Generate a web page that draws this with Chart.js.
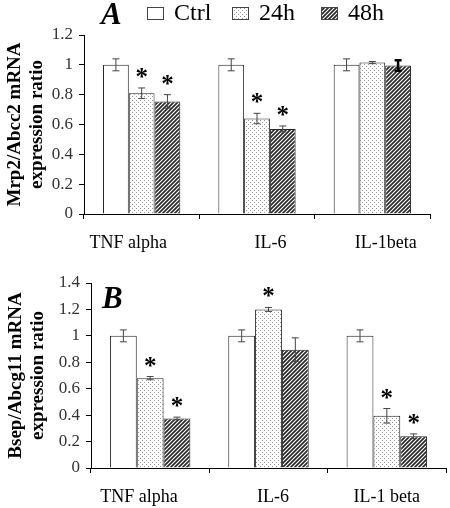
<!DOCTYPE html>
<html>
<head>
<meta charset="utf-8">
<script src="https://cdn.jsdelivr.net/npm/chart.js@4.4.1/dist/chart.umd.min.js"></script>
<style>
  body { margin: 0; background: #fff; }
  .panel { position: absolute; left: 0; width: 450px; height: 254px; }
</style>
</head>
<body>
<div class="panel" style="top:0"><canvas id="chartA" width="450" height="254"></canvas></div>
<div class="panel" style="top:254px"><canvas id="chartB" width="450" height="254"></canvas></div>
<script>
// dados
const seriesNames = ['Ctrl', '24h', '48h'];

const categoriasA = ['TNF alpha', 'IL-6', 'IL-1beta'];
const ctrlA = [1.0, 1.0, 1.0];
const h24A = [0.81, 0.64, 1.015];
const h48A = [0.755, 0.57, 0.995];
const ctrlAErr = [0.04, 0.04, 0.04];
const h24AErr = [0.035, 0.035, 0.007];
const h48AErr = [0.045, 0.02, 0.035];
const h24AStar = [true, true, false];
const h48AStar = [true, true, false];
const ticksA = [0, 0.2, 0.4, 0.6, 0.8, 1, 1.2];

const categoriasB = ['TNF alpha', 'IL-6', 'IL-1 beta'];
const ctrlB = [1.0, 1.0, 1.0];
const h24B = [0.68, 1.2, 0.395];
const h48B = [0.375, 0.895, 0.24];
const ctrlBErr = [0.045, 0.045, 0.045];
const h24BErr = [0.012, 0.015, 0.055];
const h48BErr = [0.01, 0.09, 0.018];
const h24BStar = [true, true, true];
const h48BStar = [true, false, true];
const ticksB = [0, 0.2, 0.4, 0.6, 0.8, 1, 1.2, 1.4];

const serif = "'Times New Roman', 'Liberation Serif', serif";

// padroes de preenchimento
function padraoPontos() {
    const c = document.createElement('canvas');
    c.width = 4; c.height = 4;
    const g = c.getContext('2d');
    g.fillStyle = '#fff';
    g.fillRect(0, 0, 4, 4);
    g.fillStyle = '#999';
    g.fillRect(0, 0, 1, 1);
    g.fillRect(2, 2, 1, 1);
    return g.createPattern(c, 'repeat');
}

function padraoListras() {
    const c = document.createElement('canvas');
    c.width = 4; c.height = 4;
    const g = c.getContext('2d');
    g.fillStyle = '#fff';
    g.fillRect(0, 0, 4, 4);
    g.strokeStyle = '#2a2a2a';
    g.lineWidth = 1.7;
    g.beginPath();
    g.moveTo(-1, 5); g.lineTo(5, -1);
    g.moveTo(-1, 1); g.lineTo(1, -1);
    g.moveTo(3, 5); g.lineTo(5, 3);
    g.stroke();
    return g.createPattern(c, 'repeat');
}

const fills = ['#fff', padraoPontos(), padraoListras()];

// barras de erro e asteriscos
const errorBars = {
    id: 'errorBars',
    afterDatasetsDraw(chart) {
        const ctx = chart.ctx;
        const y = chart.scales.y;
        ctx.save();
        chart.data.datasets.forEach((ds, i) => {
            const meta = chart.getDatasetMeta(i);
            meta.data.forEach((bar, j) => {
                const v = ds.data[j];
                const e = ds.err[j];
                const top = y.getPixelForValue(v + e);
                const bot = y.getPixelForValue(v - e);
                ctx.strokeStyle = ds.errColor ? ds.errColor[j] : '#444';
                ctx.lineWidth = ds.errWidth ? ds.errWidth[j] : 1;
                ctx.beginPath();
                ctx.moveTo(bar.x, top); ctx.lineTo(bar.x, bot);
                ctx.moveTo(bar.x - 3.5, top); ctx.lineTo(bar.x + 3.5, top);
                ctx.moveTo(bar.x - 3.5, bot); ctx.lineTo(bar.x + 3.5, bot);
                ctx.stroke();
                if (ds.star && ds.star[j]) {
                    ctx.fillStyle = '#000';
                    ctx.font = 'bold 25px ' + serif;
                    ctx.textAlign = 'center';
                    ctx.textBaseline = 'alphabetic';
                    ctx.fillText('*', bar.x, top - 3);
                }
            });
        });
        ctx.restore();
    }
};

// letra do painel e legenda
const painelTexto = {
    id: 'painelTexto',
    afterDraw(chart, args, opts) {
        const ctx = chart.ctx;
        ctx.save();
        ctx.fillStyle = '#000';
        ctx.font = 'bold italic ' + opts.letraSize + 'px ' + serif;
        ctx.textAlign = 'left';
        ctx.textBaseline = 'alphabetic';
        ctx.fillText(opts.letra, opts.letraX, opts.letraY);
        if (opts.legenda) {
            const xs = [147, 232, 321];
            chart.data.datasets.forEach((ds, i) => {
                ctx.fillStyle = ds.backgroundColor;
                ctx.fillRect(xs[i], 7, 17, 13);
                ctx.strokeStyle = '#444';
                ctx.lineWidth = 1;
                ctx.strokeRect(xs[i] + 0.5, 7.5, 16, 12);
                ctx.fillStyle = '#000';
                ctx.font = '24px ' + serif;
                ctx.fillText(ds.label, xs[i] + 27, 20);
            });
        }
        ctx.restore();
    }
};

function montarDatasets(valores, erros, estrelas) {
    return seriesNames.map((nome, i) => ({
        label: nome,
        data: valores[i],
        err: erros[i],
        star: estrelas[i],
        backgroundColor: fills[i],
        borderColor: '#222',
        borderWidth: 1,
        categoryPercentage: 0.67,
        barPercentage: 1.0
    }));
}

// desloca o rotulo com espacos (os rotulos da figura nao estao centrados)
function deslocar(txt, n) {
    if (n > 0) return ' '.repeat(n) + txt;
    if (n < 0) return txt + ' '.repeat(-n);
    return txt;
}

function montarGrafico(id, categorias, datasets, max, tituloY, cfg) {
    return new Chart(document.getElementById(id).getContext('2d'), {
        type: 'bar',
        data: { labels: categorias, datasets: datasets },
        options: {
            responsive: false,
            animation: false,
            devicePixelRatio: 1,
            layout: { padding: { top: cfg.top, right: cfg.right, left: 0, bottom: 0 } },
            plugins: {
                legend: { display: false },
                tooltip: { enabled: false },
                painelTexto: cfg.texto
            },
            scales: {
                x: {
                    grid: { drawOnChartArea: false, offset: true, tickLength: 5, color: '#000' },
                    border: { color: '#000', width: 1 },
                    ticks: {
                        color: '#000',
                        font: { family: serif, size: 18 },
                        padding: 13,
                        maxRotation: 0,
                        callback: (v, i) => deslocar(categorias[i], cfg.shift[i])
                    },
                    afterFit: s => { s.height = 40; }
                },
                y: {
                    min: 0,
                    max: max,
                    afterBuildTicks: s => { s.ticks = cfg.ticks.map(v => ({ value: v })); },
                    grid: { drawOnChartArea: false, tickLength: 5, color: '#000' },
                    border: { color: '#000', width: 1 },
                    ticks: {
                        color: '#333',
                        font: { family: serif, size: 17 },
                        padding: 6,
                        callback: v => String(+v.toFixed(1))
                    },
                    title: {
                        display: true,
                        text: tituloY,
                        color: '#000',
                        font: { family: serif, size: 19, weight: 'bold', lineHeight: 1.15 },
                        padding: { top: cfg.titlePad, bottom: 0 }
                    },
                    afterFit: s => { s.width = cfg.left; }
                }
            }
        },
        plugins: [errorBars, painelTexto]
    });
}

const dsA = montarDatasets([ctrlA, h24A, h48A], [ctrlAErr, h24AErr, h48AErr], [null, h24AStar, h48AStar]);
dsA[2].errColor = ['#444', '#444', '#000'];
dsA[2].errWidth = [1, 1, 2.5];
montarGrafico('chartA', categoriasA, dsA, 1.2, ['Mrp2/Abcc2 mRNA', 'expression ratio'], {
    top: 35, right: 20, left: 84, titlePad: 4, ticks: ticksA, shift: [-6, 6, 6],
    texto: { letra: 'A', letraX: 101, letraY: 24, letraSize: 31, legenda: true }
});

const dsB = montarDatasets([ctrlB, h24B, h48B], [ctrlBErr, h24BErr, h48BErr], [null, h24BStar, h48BStar]);
dsB.forEach(d => { d.categoryPercentage = 0.68; });
montarGrafico('chartB', categoriasB, dsB, 1.4, ['Bsep/Abcg11 mRNA', 'expression ratio'], {
    top: 29, right: 4, left: 91, titlePad: 5, ticks: ticksB, shift: [-5, 2, 0],
    texto: { letra: 'B', letraX: 102, letraY: 54, letraSize: 31, legenda: false }
});
</script>
</body>
</html>
